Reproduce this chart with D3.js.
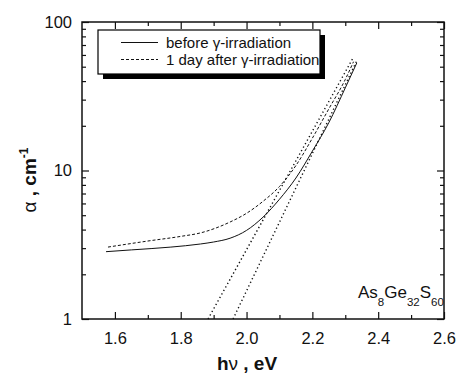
<!DOCTYPE html>
<html>
<head>
<meta charset="utf-8">
<script src="https://cdn.jsdelivr.net/npm/d3@7"></script>
<style>
  body { margin: 0; background: #fff; }
  svg { font-family: "Liberation Sans", Arial, sans-serif; }
</style>
</head>
<body>
<svg id="chart" width="457" height="376"></svg>
<script>
// photon energy (eV) and absorption coefficient (cm^-1)
const beforeE = [1.573, 1.65, 1.77, 1.86, 1.90, 1.95, 2.00, 2.05, 2.10, 2.15, 2.20, 2.25, 2.30, 2.335];
const beforeA = [2.84, 2.92, 3.05, 3.2, 3.3, 3.5, 3.95, 4.85, 6.4, 8.9, 13.5, 21, 36, 53];
const afterE = [1.579, 1.70, 1.80, 1.86, 1.95, 2.00, 2.05, 2.10, 2.15, 2.20, 2.25, 2.30, 2.325];
const afterA = [3.05, 3.35, 3.6, 3.8, 4.5, 5.15, 6.2, 7.8, 10.8, 16.5, 26, 41, 54];
// linear fits of the absorption edge (dotted)
const fitAfterE = [1.883, 2.325];
const fitAfterA = [1, 58];
const fitBeforeE = [1.959, 2.337];
const fitBeforeA = [1, 56];

const xMajor = [1.6, 1.8, 2.0, 2.2, 2.4, 2.6];
const xMinor = [1.7, 1.9, 2.1, 2.3, 2.5];
const yMajor = [1, 10, 100];
const yMinor = [2, 3, 4, 5, 6, 7, 8, 9, 20, 30, 40, 50, 60, 70, 80, 90];
const legendLabels = ["before \u03b3-irradiation", "1 day after \u03b3-irradiation"];

const svg = d3.select("#chart");
const L = 82, R = 444, T = 22, B = 319;

const x = d3.scaleLinear().domain([1.5, 2.6]).range([L, R]);
const y = d3.scaleLog().domain([1, 100]).range([B, T]);

function axisGroup(axis, tx, ty) {
  const g = svg.append("g").attr("transform", `translate(${tx},${ty})`).call(axis);
  g.select(".domain").remove();
  g.selectAll("line").attr("stroke", "#111").attr("stroke-width", 1.2);
  g.selectAll("text").attr("font-size", 16.5).attr("fill", "#111")
    .attr("font-family", "'Liberation Sans', Arial, sans-serif");
  return g;
}

// major + minor ticks on all four sides, pointing inward
axisGroup(d3.axisBottom(x).tickValues(xMajor).tickSize(-7).tickPadding(13).tickFormat(d3.format(".1f")), 0, B);
axisGroup(d3.axisBottom(x).tickValues(xMinor).tickSize(-4).tickFormat(""), 0, B);
axisGroup(d3.axisTop(x).tickValues(xMajor).tickSize(-7).tickFormat(""), 0, T);
axisGroup(d3.axisTop(x).tickValues(xMinor).tickSize(-4).tickFormat(""), 0, T);
axisGroup(d3.axisLeft(y).tickValues(yMajor).tickSize(-7).tickPadding(10).tickFormat(d3.format("d")), L, 0);
axisGroup(d3.axisLeft(y).tickValues(yMinor).tickSize(-4).tickFormat(""), L, 0);
axisGroup(d3.axisRight(y).tickValues(yMajor).tickSize(-7).tickFormat(""), R, 0);
axisGroup(d3.axisRight(y).tickValues(yMinor).tickSize(-4).tickFormat(""), R, 0);

svg.append("rect")
  .attr("x", L).attr("y", T).attr("width", R - L).attr("height", B - T)
  .attr("fill", "none").attr("stroke", "#111").attr("stroke-width", 1.5);

const line = d3.line().x(d => x(d[0])).y(d => y(d[1])).curve(d3.curveMonotoneX);
const plain = d3.line().x(d => x(d[0])).y(d => y(d[1]));

function draw(es, as, gen, dash, w) {
  svg.append("path")
    .datum(es.map((e, i) => [e, as[i]]))
    .attr("d", gen)
    .attr("fill", "none")
    .attr("stroke", "#111")
    .attr("stroke-width", w)
    .attr("stroke-dasharray", dash);
}

draw(fitAfterE, fitAfterA, plain, "1.3,2.7", 1.4);
draw(fitBeforeE, fitBeforeA, plain, "1.3,2.7", 1.4);
draw(beforeE, beforeA, line, null, 1);
draw(afterE, afterA, line, "3,2", 1);

// legend with drop shadow
const lg = svg.append("g");
lg.append("rect").attr("x", 103).attr("y", 35).attr("width", 222).attr("height", 44).attr("fill", "#000");
lg.append("rect").attr("x", 98).attr("y", 30).attr("width", 222).attr("height", 44)
  .attr("fill", "#fff").attr("stroke", "#000").attr("stroke-width", 1.2);
const dashes = [null, "3,2"];
legendLabels.forEach((t, i) => {
  const yy = 42.5 + i * 17;
  lg.append("line").attr("x1", 121).attr("x2", 158).attr("y1", yy).attr("y2", yy)
    .attr("stroke", "#111").attr("stroke-width", 1).attr("stroke-dasharray", dashes[i]);
  lg.append("text").attr("x", 166).attr("y", yy + 5).attr("font-size", 15).attr("fill", "#111").text(t);
});

// composition label
const comp = svg.append("text").attr("x", 358).attr("y", 298).attr("font-size", 17).attr("fill", "#111");
[["As", 0], ["8", 1], ["Ge", 0], ["32", 1], ["S", 0], ["60", 1]].forEach(([s, sub], i) => {
  comp.append("tspan").text(s)
    .attr("font-size", sub ? 11.5 : 17)
    .attr("dy", i === 0 ? 0 : (sub ? 8 : -8));
});

// axis titles
const xt = svg.append("text").attr("x", 247).attr("y", 370).attr("text-anchor", "middle")
  .attr("font-size", 19).attr("font-weight", "bold").attr("fill", "#111");
xt.append("tspan").text("h");
xt.append("tspan").attr("font-weight", "normal").text("\u03bd");
xt.append("tspan").text(" , eV");

const yt = svg.append("text").attr("transform", "translate(36,180) rotate(-90)")
  .attr("text-anchor", "middle").attr("font-size", 19).attr("font-weight", "bold").attr("fill", "#111");
yt.append("tspan").attr("font-weight", "normal").text("\u03b1");
yt.append("tspan").text(" , cm");
yt.append("tspan").attr("font-size", 12).attr("dy", -8).text("-1");
</script>
</body>
</html>
